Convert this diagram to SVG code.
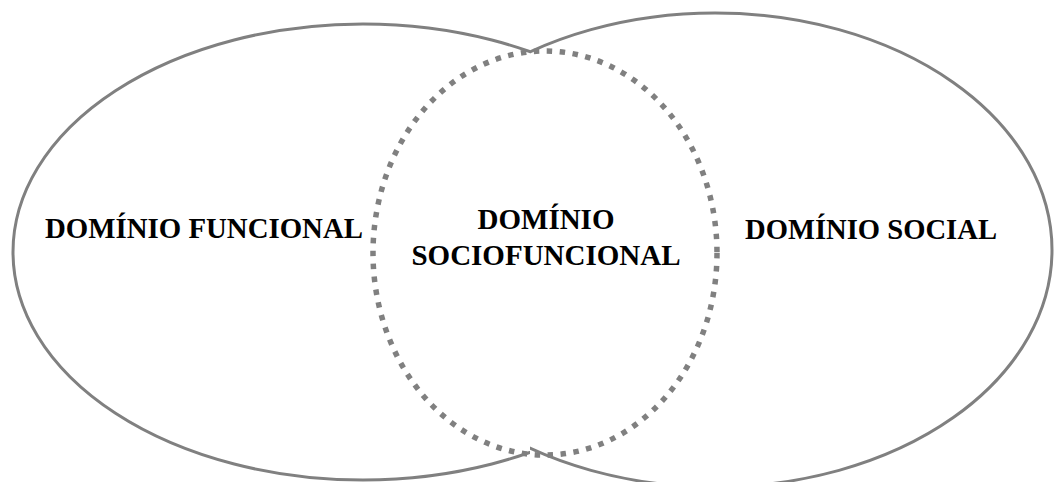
<svg xmlns="http://www.w3.org/2000/svg" width="1055" height="482" viewBox="0 0 1055 482">
<style>
.solid{fill:none;stroke:#808080;stroke-width:3}
.dotted{fill:none;stroke:#808080;stroke-width:5.5;stroke-dasharray:5.5 7.5}
.lbl{font-family:"Liberation Serif","Times New Roman",serif;font-weight:bold;font-size:29px;fill:#000}
</style>
<defs>
<clipPath id="clipL"><rect x="0" y="0" width="530" height="482"/></clipPath>
<clipPath id="clipR"><rect x="530" y="0" width="525" height="482"/></clipPath>
</defs>
<rect width="1055" height="482" fill="#fff"/>
<g id="funcional">
<ellipse class="solid" cx="363" cy="252" rx="350" ry="228" clip-path="url(#clipL)"/>
<text class="lbl" x="45" y="238" textLength="318" lengthAdjust="spacingAndGlyphs">DOMÍNIO FUNCIONAL</text>
</g>
<g id="social">
<ellipse class="solid" cx="715" cy="250" rx="337" ry="237" clip-path="url(#clipR)"/>
<text class="lbl" x="745" y="239" textLength="252" lengthAdjust="spacingAndGlyphs">DOMÍNIO SOCIAL</text>
</g>
<g id="sociofuncional">
<ellipse class="dotted" cx="545" cy="253" rx="172" ry="202"/>
<text class="lbl" x="546" y="229" text-anchor="middle">DOMÍNIO</text>
<text class="lbl" x="546" y="265" text-anchor="middle">SOCIOFUNCIONAL</text>
</g>
<g id="connectors"/>
</svg>
